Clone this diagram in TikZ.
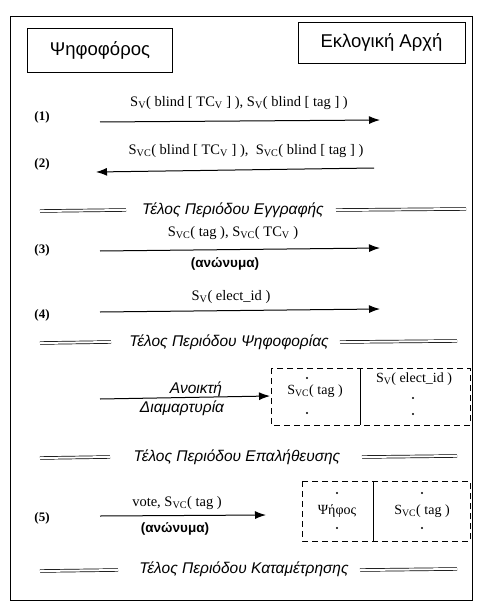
\documentclass[tikz,border=0pt]{standalone}
\usepackage{fontspec}
\setmainfont{Liberation Serif}
\setsansfont{Liberation Sans}
\usetikzlibrary{arrows.meta}
\newcommand\Sv{S\textsubscript{V}}
\newcommand\Svc{S\textsubscript{VC}}
\begin{document}
\begin{tikzpicture}[x=1pt,y=-1pt,
  actor/.style={draw, line width=0.9pt, font=\sffamily\fontsize{18.5}{20}\selectfont, inner sep=0pt},
  msg/.style={font=\fontsize{14.5}{16}\selectfont, inner sep=1pt},
  num/.style={font=\bfseries\fontsize{13}{15}\selectfont},
  anon/.style={font=\sffamily\bfseries\fontsize{13.5}{15}\selectfont, inner sep=1pt},
  period/.style={font=\sffamily\itshape\fontsize{15.5}{17}\selectfont, inner sep=1pt},
  sep/.style={double, double distance=2pt, line width=0.7pt},
  arr/.style={-{Latex[length=11pt,width=8pt]}, line width=1pt},
  dbox/.style={draw, dash pattern=on 6pt off 4pt, line width=0.8pt},
  cell/.style={font=\fontsize{14}{16}\selectfont, inner sep=0pt},
  dot/.style={circle, fill, inner sep=0pt, minimum size=2.2pt}]
\useasboundingbox (0,0) rectangle (481,604);
\fill[white] (0,0) rectangle (481,604);
% outer frame
\draw[line width=0.9pt] (10,16) rectangle (472,600);
% actors
\node[actor, minimum width=145pt, minimum height=44pt] (voter) at (100,50) {Ψηφοφόρος\hspace{8pt}};
\node[actor, minimum width=167pt, minimum height=41pt] (auth) at (381.5,42.5) {Εκλογική Αρχή};
% (1)
\node[num] (n1) at (42,117) {(1)};
\coordinate (a1s) at (100,122);
\coordinate (a1e) at (380,120);
\draw[arr] (a1s) -- (a1e);
\node[msg] (m1) at (239,103) {\Sv( blind [ TC\textsubscript{V} ] ), \Sv( blind [ tag ] )};
% (2)
\node[num] (n2) at (42,164) {(2)};
\coordinate (a2s) at (374,168);
\coordinate (a2e) at (96,172);
\draw[arr] (a2s) -- (a2e);
\node[msg] (m2) at (246,151) {\Svc( blind [ TC\textsubscript{V} ] ),\ \ \Svc( blind [ tag ] )};
% period 1
\node[period] (p1) at (233,210) {Τέλος Περιόδου Εγγραφής};
\coordinate (p1a) at (40,211); \coordinate (p1b) at (126,210);
\coordinate (p1c) at (336,210); \coordinate (p1d) at (466,209);
\draw[sep] (p1a) -- (p1b);
\draw[sep] (p1c) -- (p1d);
% (3)
\node[num] (n3) at (42,250) {(3)};
\coordinate (a3s) at (100,251);
\coordinate (a3e) at (380,248);
\draw[arr] (a3s) -- (a3e);
\node[msg] (m3) at (233,233) {\Svc( tag ), \Svc( TC\textsubscript{V} )};
\node[anon] (an3) at (225,264) {(ανώνυμα)};
% (4)
\node[num] (n4) at (42,315) {(4)};
\coordinate (a4s) at (100,312);
\coordinate (a4e) at (380,309);
\draw[arr] (a4s) -- (a4e);
\node[msg] (m4) at (231,297) {\Sv( elect\_id )};
% period 2
\node[period] (p2) at (229,342) {Τέλος Περιόδου Ψηφοφορίας};
\coordinate (p2a) at (40,343); \coordinate (p2b) at (111,342);
\coordinate (p2c) at (340,342); \coordinate (p2d) at (457,341);
\draw[sep] (p2a) -- (p2b);
\draw[sep] (p2c) -- (p2d);
% open complaint
\draw[dbox] (271,368) rectangle (470,425);
\coordinate (d1t) at (360,368); \coordinate (d1b) at (360,425);
\draw[line width=0.8pt] (d1t) -- (d1b);
\node[dot] (c1a) at (307,378) {};
\node[cell] (c1) at (315,391) {\Svc( tag )};
\node[dot] (c1b) at (307,413) {};
\node[cell] (c2) at (414,379) {\Sv( elect\_id )};
\node[dot] (c2a) at (413,398) {};
\node[dot] (c2b) at (413,414) {};
\coordinate (a6s) at (100,399);
\coordinate (a6e) at (270,396);
\draw[arr] (a6s) -- (a6e);
\node[period] (o1) at (196,389) {Ανοικτή};
\node[period] (o2) at (182,408) {Διαμαρτυρία};
% period 3
\node[period] (p3) at (237,457) {Τέλος Περιόδου Επαλήθευσης};
\coordinate (p3a) at (40,458); \coordinate (p3b) at (110,457);
\coordinate (p3c) at (362,457); \coordinate (p3d) at (457,456);
\draw[sep] (p3a) -- (p3b);
\draw[sep] (p3c) -- (p3d);
% (5)
\node[num] (n5) at (42,518) {(5)};
\coordinate (a5s) at (100,516);
\coordinate (a5e) at (266,515);
\draw[arr] (a5s) -- (a5e);
\node[msg] (m5) at (177,503) {vote, \Svc( tag )};
\node[anon] (an5) at (175,529) {(ανώνυμα)};
\draw[dbox] (302,481) rectangle (470,541);
\coordinate (d2t) at (373,481); \coordinate (d2b) at (373,541);
\draw[line width=0.8pt] (d2t) -- (d2b);
\node[dot] (e1a) at (337,493) {};
\node[cell] (e1) at (337,511) {Ψήφος};
\node[dot] (e1b) at (337,528) {};
\node[dot] (e2a) at (422,493) {};
\node[cell] (e2) at (422,511) {\Svc( tag )};
\node[dot] (e2b) at (422,528) {};
% period 4
\node[period] (p4) at (244,569) {Τέλος Περιόδου Καταμέτρησης};
\coordinate (p4a) at (40,571); \coordinate (p4b) at (118,570);
\coordinate (p4c) at (360,570); \coordinate (p4d) at (457,569);
\draw[sep] (p4a) -- (p4b);
\draw[sep] (p4c) -- (p4d);
\end{tikzpicture}
\end{document}
